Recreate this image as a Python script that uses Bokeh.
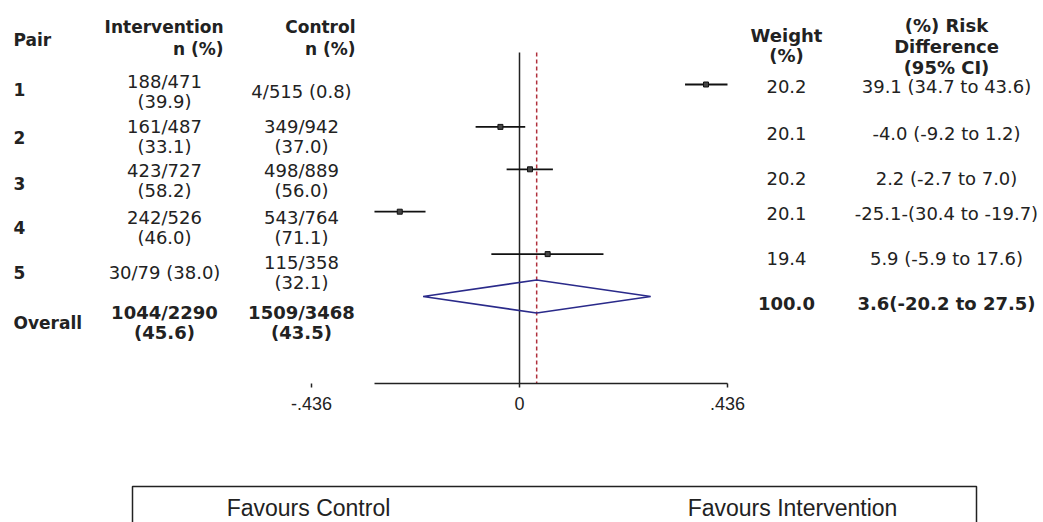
from bokeh.plotting import figure
from bokeh.models import Range1d, LinearAxis, FixedTicker, CustomJSTickFormatter, ColumnDataSource
from bokeh.core.properties import value
from bokeh.embed import file_html
from bokeh.resources import INLINE

# ---------------- data ----------------
pairs = ["1", "2", "3", "4", "5"]
int_events = [188, 161, 423, 242, 30]
int_totals = [471, 487, 727, 526, 79]
int_pct = [39.9, 33.1, 58.2, 46.0, 38.0]
ctl_events = [4, 349, 498, 543, 115]
ctl_totals = [515, 942, 889, 764, 358]
ctl_pct = [0.8, 37.0, 56.0, 71.1, 32.1]
weights = [20.2, 20.1, 20.2, 20.1, 19.4]
rd = [39.1, -4.0, 2.2, -25.1, 5.9]
rd_lo = [34.7, -9.2, -2.7, -30.4, -5.9]
rd_hi = [43.6, 1.2, 7.0, -19.7, 17.6]
rd_labels = ["39.1 (34.7 to 43.6)", "-4.0 (-9.2 to 1.2)", "2.2 (-2.7 to 7.0)",
             "-25.1-(30.4 to -19.7)", "5.9 (-5.9 to 17.6)"]
overall_int = (1044, 2290, 45.6)
overall_ctl = (1509, 3468, 43.5)
overall_weight = 100.0
overall_rd = 3.6
overall_lo = -20.2
overall_hi = 27.5
overall_label = "3.6(-20.2 to 27.5)"

# ---------------- layout ----------------
W, H = 1043, 522
PAGE = 0
ZERO_PX = 519          # page x of RD = 0
PX_PER_UNIT = 477.06   # pixels per unit of risk difference (fraction)
ROW0_PX = 84           # page y of first row
ROW_STEP = 42.4
AXIS_ROW = (383 - ROW0_PX) / ROW_STEP
LINE_TOP_ROW = (52 - ROW0_PX) / ROW_STEP

x_start = (PAGE - ZERO_PX) / PX_PER_UNIT
x_end = (PAGE + W - ZERO_PX) / PX_PER_UNIT
y_top = (PAGE - ROW0_PX) / ROW_STEP
y_bot = (PAGE + H - ROW0_PX) / ROW_STEP

p = figure(width=W, height=H, output_backend="svg", toolbar_location=None,
           x_range=Range1d(x_start, x_end), y_range=Range1d(y_bot, y_top),
           min_border=0, outline_line_color=None)
p.xaxis.visible = False
p.yaxis.visible = False
p.grid.visible = False
p.extra_x_ranges = {"px": Range1d(PAGE, PAGE + W)}
p.extra_y_ranges = {"py": Range1d(PAGE + H, PAGE)}

TXT = "#222222"
BODY = value("DejaVu Sans")
SANS = value("Liberation Sans")

# ---------------- forest plot ----------------
rows = list(range(len(pairs)))
est = [v / 100 for v in rd]
lo = [v / 100 for v in rd_lo]
hi = [v / 100 for v in rd_hi]
src = ColumnDataSource(dict(y=rows, est=est, lo=lo, hi=hi))

ov_est = overall_rd / 100
ov_lo = overall_lo / 100
ov_hi = overall_hi / 100
ov_row = len(pairs)

# vertical null line and overall estimate line
p.segment(x0=[0], x1=[0], y0=[LINE_TOP_ROW], y1=[AXIS_ROW], line_color="#222222", line_width=1.5)
p.segment(x0=[ov_est], x1=[ov_est], y0=[LINE_TOP_ROW], y1=[AXIS_ROW],
          line_color="#b0303c", line_width=1.5, line_dash="4 3")

p.segment(x0="lo", x1="hi", y0="y", y1="y", source=src, line_color="#111111", line_width=1.8)
p.scatter(x="est", y="y", source=src, marker="square", size=5,
          fill_color="#444444", line_color="#111111")

half_h = 0.39
p.patch(x=[ov_lo, ov_est, ov_hi, ov_est], y=[ov_row, ov_row - half_h, ov_row, ov_row + half_h],
        fill_color=None, line_color="#2a2a8a", line_width=1.6)

tmax = max(abs(v) for v in lo + hi)
fmt = CustomJSTickFormatter(code="""
    if (tick == 0) return "0";
    return tick.toFixed(3).replace("0.", ".");
""")
ax = LinearAxis(ticker=FixedTicker(ticks=[0, tmax]), formatter=fmt,
                fixed_location=AXIS_ROW, bounds=(min(lo), max(hi)))
ax2 = LinearAxis(ticker=FixedTicker(ticks=[-tmax]), formatter=fmt,
                 fixed_location=AXIS_ROW)
for a in (ax, ax2):
    a.axis_line_width = 1.5
    a.axis_line_color = "#222222" if a is ax else None
    a.major_tick_line_color = "#222222"
    a.major_tick_line_width = 1.5
    a.major_tick_out = 4
    a.major_tick_in = 0
    a.minor_tick_line_color = None
    a.major_label_text_font = "Liberation Sans"
    a.major_label_text_font_size = "18px"
    a.major_label_text_color = TXT
    a.major_label_standoff = 9
    p.add_layout(a, "below")

# ---------------- tables ----------------
def cell(n, N, pct):
    s = f"{n}/{N} ({pct:.1f})"
    return s.replace(" (", "\n(") if len(s) > 12 else s

LEFT_ROW_Y = [91, 136, 180, 227, 272, 322]
RIGHT_ROW_Y = [86, 133, 178, 213, 258, 303]
PAIR_X, INT_X, CTL_X, W_X, RD_X = 13, 164, 301, 786, 946

def txt(x, y, t, align="center", bold=False, size="18px", font=BODY, lh=1.2):
    p.text(x=x, y=y, text=t, x_range_name="px", y_range_name="py",
           text_align=align, text_baseline="middle", text_font=font,
           text_font_size=size, text_font_style="bold" if bold else "normal",
           text_color=TXT, text_line_height=lh)

# headers
txt([PAIR_X], [39], ["Pair"], align="left", bold=True, size="17px")
txt([223], [37.5], ["Intervention\nn (%)"], align="right", bold=True, size="17px", lh=1.09)
txt([355], [37.5], ["Control\nn (%)"], align="right", bold=True, size="17px", lh=1.09)
txt([W_X], [45], ["Weight\n(%)"], bold=True, size="18px", lh=0.98)
txt([RD_X], [46], ["(%) Risk\nDifference\n(95% CI)"], bold=True, size="18px", lh=0.99)

# body rows
n = len(pairs)
txt([PAIR_X] * n, [89, 137, 183, 227, 272], pairs, align="left", bold=True, size="17px")
txt([INT_X] * n, LEFT_ROW_Y[:n], [cell(a, b, c) for a, b, c in zip(int_events, int_totals, int_pct)], lh=0.96)
txt([CTL_X] * n, LEFT_ROW_Y[:n], [cell(a, b, c) for a, b, c in zip(ctl_events, ctl_totals, ctl_pct)], lh=0.96)
txt([W_X] * n, RIGHT_ROW_Y[:n], [f"{w:.1f}" for w in weights])
txt([RD_X] * n, RIGHT_ROW_Y[:n], rd_labels)

# overall row
txt([PAIR_X], [LEFT_ROW_Y[n]], ["Overall"], align="left", bold=True, size="17px")
txt([INT_X], [LEFT_ROW_Y[n]], ["%d/%d\n(%.1f)" % overall_int], bold=True, lh=0.96)
txt([CTL_X], [LEFT_ROW_Y[n]], ["%d/%d\n(%.1f)" % overall_ctl], bold=True, lh=0.96)
txt([W_X], [RIGHT_ROW_Y[n]], [f"{overall_weight:.1f}"], bold=True)
txt([RD_X], [RIGHT_ROW_Y[n]], [overall_label], bold=True)

# favours box
p.quad(left=[132], right=[976], top=[486], bottom=[600], x_range_name="px", y_range_name="py",
       fill_color=None, line_color="#222222", line_width=1.5)
txt([308], [507], ["Favours Control"], size="23px", font=SANS)
txt([792], [507], ["Favours Intervention"], size="23px", font=SANS)

open("out.html", "w").write(file_html(p, INLINE))
